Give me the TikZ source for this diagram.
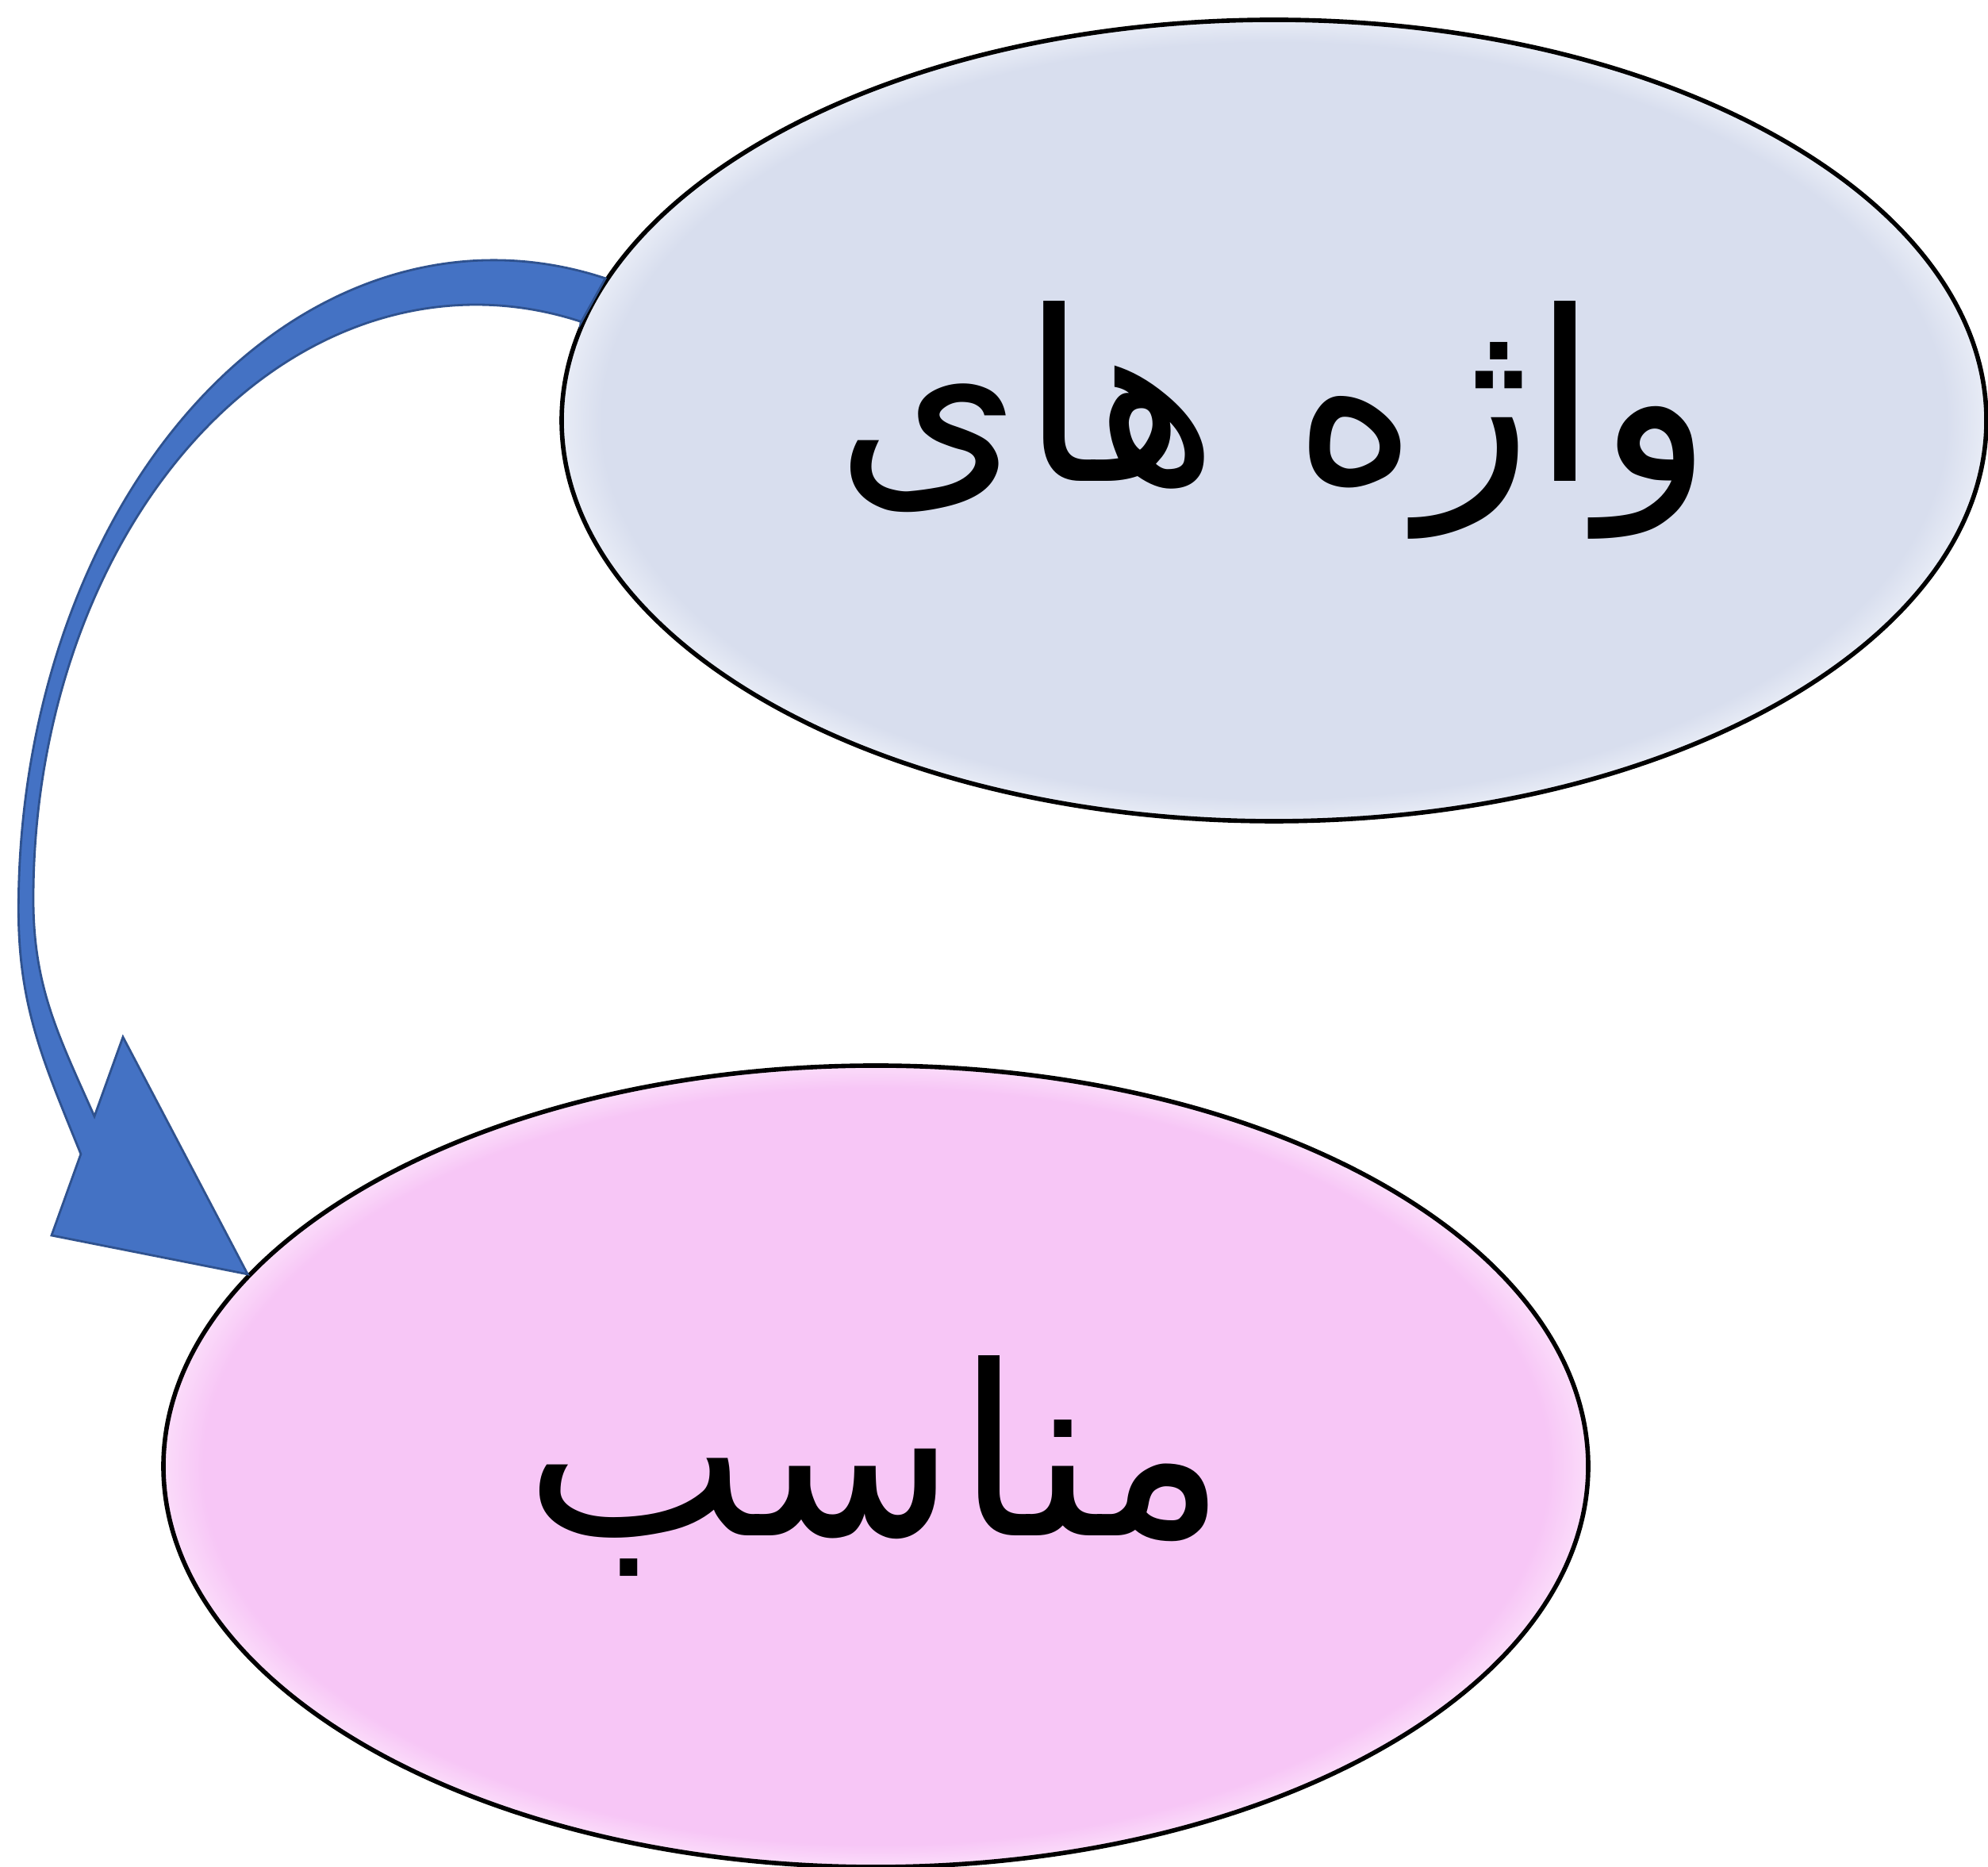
\documentclass[tikz,border=0pt]{standalone}
\usepackage{fontspec}
\newfontfamily\arabicfont[Script=Arabic]{DejaVu Sans}
\TeXXeTstate=1
\usetikzlibrary{shapes.geometric,positioning,calc}
\definecolor{wordfill}{RGB}{216,222,238}
\definecolor{wordrim}{RGB}{232,236,246}
\definecolor{fitfill}{RGB}{247,198,246}
\definecolor{fitrim}{RGB}{251,220,250}
\definecolor{arrfill}{RGB}{68,114,196}
\definecolor{arrline}{RGB}{47,82,143}
\pgfdeclareradialshading{wordshade}{\pgfpoint{0bp}{0bp}}{color(0bp)=(wordfill); color(23.6bp)=(wordfill); color(25bp)=(wordrim); color(50bp)=(wordrim)}
\pgfdeclareradialshading{fitshade}{\pgfpoint{0bp}{0bp}}{color(0bp)=(fitfill); color(23.6bp)=(fitfill); color(25bp)=(fitrim); color(50bp)=(fitrim)}

\begin{document}
\begin{tikzpicture}[bubble/.style={ellipse,draw,line width=1.6pt,minimum width=17.96cm,minimum height=10.1cm,inner sep=0pt},
	curvy/.style={fill=arrfill,draw=arrline,line width=0.8pt}] 
	\useasboundingbox (0,0) rectangle (25.06,23.53);
	\node[bubble,shading=wordshade] (w) at (16.06,18.23) {\arabicfont\fontsize{85}{100}\selectfont\beginR واژه های\endR}; 
	\node[bubble,shading=fitshade] (m) at (11.04,5.05) {\arabicfont\fontsize{85}{100}\selectfont\beginR مناسب\endR};
	% arrow head
	\coordinate (tip) at (m.163);
	\coordinate (hl) at (0.65,7.96);
	\coordinate (ht) at (1.55,10.46);
	\coordinate (jo) at ($(hl)!0.41!(ht)$);
	\coordinate (ji) at ($(hl)!0.6!(ht)$);
	\filldraw[curvy] (w.168) arc[start angle=76.4,end angle=180,x radius=5.99cm,y radius=8.18cm]
	to[out=-90,in=112] (jo) -- (hl) -- (tip) -- (ht) -- (ji)
	to[out=114,in=-90] (0.42,12.2) arc[start angle=180,end angle=76.3,x radius=5.58cm,y radius=7.49cm]
	-- (w.172) -- cycle;
\end{tikzpicture}
\end{document}
